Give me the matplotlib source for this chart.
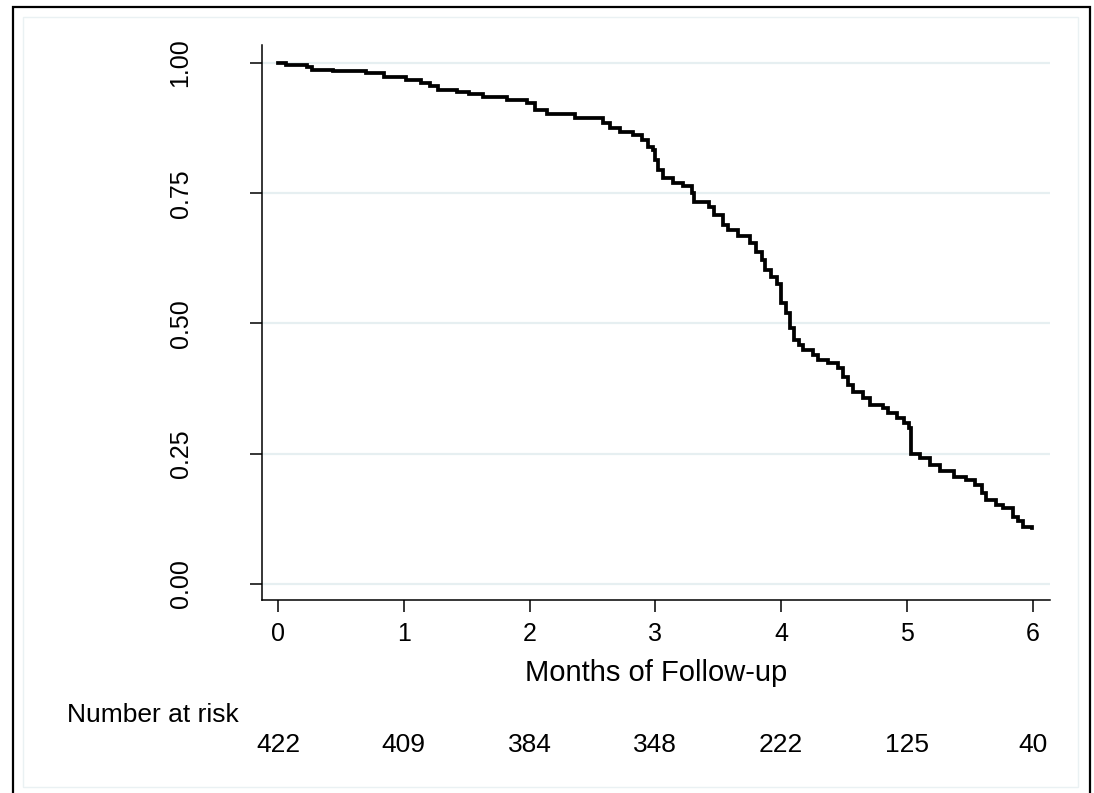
#!/usr/bin/env python3
"""Kaplan-Meier style survival curve with a number-at-risk row."""

import matplotlib
matplotlib.use("Agg")
import matplotlib.pyplot as plt
from matplotlib.patches import Rectangle


# step times (months) and survival level after each step
months = [0.00, 0.06, 0.23, 0.27, 0.44, 0.70, 0.84, 1.02, 1.14, 1.21, 1.27,
          1.42, 1.52, 1.63, 1.82, 1.98, 2.04, 2.14, 2.36, 2.58, 2.64, 2.72,
          2.82, 2.89, 2.94, 2.98, 3.00, 3.02, 3.06, 3.14, 3.22, 3.29, 3.31,
          3.43, 3.47, 3.54, 3.58, 3.66, 3.75, 3.80, 3.85, 3.87, 3.92, 3.97,
          4.00, 4.04, 4.07, 4.10, 4.14, 4.17, 4.25, 4.29, 4.37, 4.45, 4.49,
          4.53, 4.57, 4.65, 4.71, 4.81, 4.85, 4.92, 4.98, 5.02, 5.03, 5.10,
          5.18, 5.26, 5.37, 5.47, 5.54, 5.60, 5.63, 5.71, 5.76, 5.84, 5.88,
          5.92, 5.99]
survival = [1.000, 0.996, 0.992, 0.987, 0.984, 0.980, 0.974, 0.967, 0.961,
            0.955, 0.948, 0.945, 0.940, 0.935, 0.929, 0.923, 0.910, 0.903,
            0.894, 0.885, 0.875, 0.868, 0.862, 0.852, 0.839, 0.833, 0.814,
            0.795, 0.779, 0.770, 0.763, 0.750, 0.734, 0.724, 0.708, 0.689,
            0.680, 0.667, 0.654, 0.638, 0.622, 0.603, 0.590, 0.575, 0.539,
            0.520, 0.491, 0.468, 0.459, 0.449, 0.440, 0.430, 0.424, 0.415,
            0.398, 0.382, 0.369, 0.357, 0.344, 0.337, 0.328, 0.318, 0.309,
            0.299, 0.250, 0.242, 0.228, 0.216, 0.206, 0.200, 0.190, 0.175,
            0.161, 0.152, 0.146, 0.129, 0.120, 0.110, 0.107]

x_ticks = [0, 1, 2, 3, 4, 5, 6]
y_ticks = [0.00, 0.25, 0.50, 0.75, 1.00]
at_risk = [422, 409, 384, 348, 222, 125, 40]


def main() -> None:
    plt.rcParams.update({
        "font.family": ["Liberation Sans", "DejaVu Sans"],
        "font.size": 18,
    })

    fig = plt.figure(figsize=(10.94, 7.93), dpi=100)
    fig.patches.append(Rectangle((13 / 1094, -0.05), 1077 / 1094, 1.05 - 7 / 793,
                                 transform=fig.transFigure, fill=False,
                                 edgecolor="black", lw=1.6))
    fig.patches.append(Rectangle((23 / 1094, 6 / 793), 1055 / 1094, 770 / 793,
                                 transform=fig.transFigure, fill=False,
                                 edgecolor="#eaf1f3", lw=1.0))

    ax = fig.add_axes([262 / 1094, 1 - 600 / 793, 788 / 1094, 555 / 793])
    ax.set_xlim(-0.127, 6.137)
    ax.set_ylim(-0.0307, 1.0345)

    for yv in y_ticks:
        ax.axhline(yv, color="#e6eff1", lw=1.6, zorder=0)

    ax.plot(months, survival, drawstyle="steps-post", color="black", lw=2.7,
            solid_joinstyle="miter")

    ax.spines["top"].set_visible(False)
    ax.spines["right"].set_visible(False)
    for s in ("left", "bottom"):
        ax.spines[s].set_linewidth(1.1)

    ax.set_xticks(x_ticks)
    ax.set_yticks(y_ticks)
    ax.set_yticklabels([f"{v:.2f}" for v in y_ticks], rotation=90, va="center")
    ax.tick_params(axis="both", length=8.5, width=1.1, labelsize=18)
    ax.tick_params(axis="x", pad=7)
    ax.tick_params(axis="y", pad=41.5)
    ax.set_xlabel("Months of Follow-up", fontsize=21, labelpad=10)

    fig.text(67 / 1094, 1 - 715 / 793, "Number at risk", fontsize=19,
             ha="left", va="center")
    for xv, n in zip(x_ticks, at_risk):
        ax.text(xv, -0.261, str(n), transform=ax.get_xaxis_transform(),
                fontsize=19, ha="center", va="center")

    fig.savefig("out.png", dpi=100)
    plt.close(fig)


if __name__ == "__main__":
    main()
